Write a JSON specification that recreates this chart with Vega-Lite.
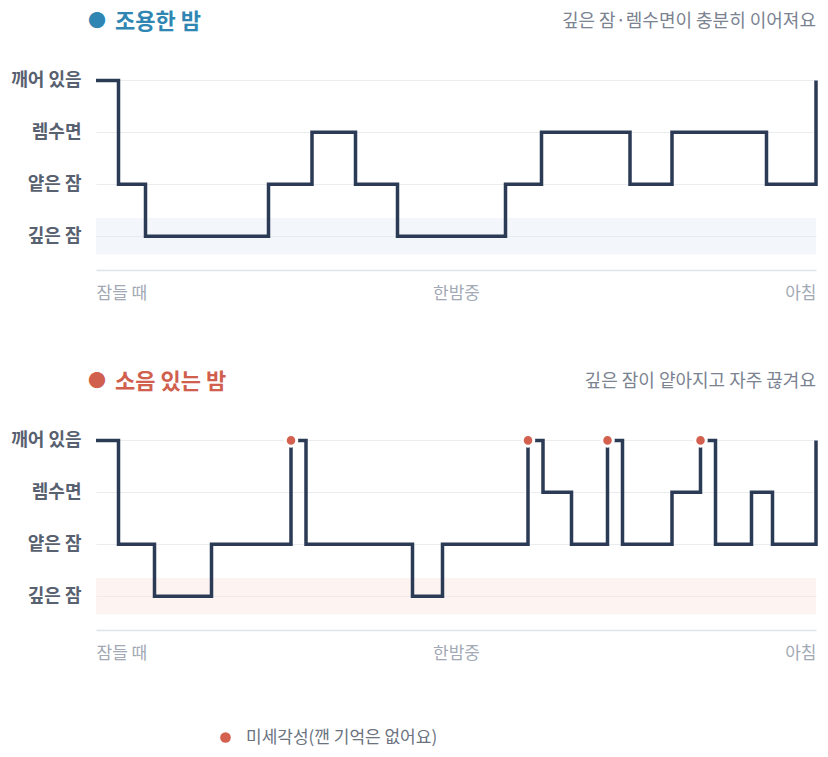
{
  "$schema": "https://vega.github.io/schema/vega-lite/v6.json",
  "background": "white",
  "padding": {"left": 10, "top": 10, "right": 5, "bottom": 5},
  "bounds": "flush",
  "spacing": 160,
  "datasets": {
    "quiet": [
      {"t": 0, "level": 3}, {"t": 15, "level": 1}, {"t": 33, "level": 0},
      {"t": 115, "level": 1}, {"t": 144, "level": 2}, {"t": 173, "level": 1},
      {"t": 201, "level": 0}, {"t": 273, "level": 1}, {"t": 297, "level": 2},
      {"t": 356, "level": 1}, {"t": 384, "level": 2}, {"t": 447, "level": 1},
      {"t": 480, "level": 3}
    ],
    "noisy": [
      {"t": 0, "level": 3}, {"t": 15, "level": 1}, {"t": 39, "level": 0},
      {"t": 77, "level": 1}, {"t": 130, "level": 3}, {"t": 140, "level": 1},
      {"t": 211, "level": 0}, {"t": 231, "level": 1}, {"t": 288, "level": 3},
      {"t": 298, "level": 2}, {"t": 317, "level": 1}, {"t": 341, "level": 3},
      {"t": 351, "level": 1}, {"t": 384, "level": 2}, {"t": 403, "level": 3},
      {"t": 413, "level": 1}, {"t": 437, "level": 2}, {"t": 451, "level": 1},
      {"t": 480, "level": 3}
    ],
    "arousals": [
      {"t": 130, "level": 3}, {"t": 288, "level": 3},
      {"t": 341, "level": 3}, {"t": 403, "level": 3}
    ],
    "quietText": [
      {"dot": "●", "title": "조용한 밤", "note": "깊은 잠·렘수면이 충분히 이어져요"}
    ],
    "noisyText": [
      {"dot": "●", "title": "소음 있는 밤", "note": "깊은 잠이 얕아지고 자주 끊겨요"}
    ]
  },
  "vconcat": [
    {
      "width": 720,
      "height": 200,
      "layer": [
        {
          "data": {"name": "quietText"},
          "mark": {"type": "rect", "color": "#e4edf6", "opacity": 0.45},
          "encoding": {
            "x": {"datum": 0, "type": "quantitative"},
            "x2": {"datum": 480},
            "y": {"datum": -0.35, "type": "quantitative"},
            "y2": {"datum": 0.35}
          }
        },
        {
          "data": {"name": "quiet"},
          "mark": {"type": "line", "interpolate": "step-after", "color": "#2b3a55", "strokeWidth": 3.5, "strokeJoin": "miter"},
          "encoding": {
            "x": {
              "field": "t", "type": "quantitative", "title": null,
              "scale": {"domain": [0, 480], "nice": false, "zero": false},
              "axis": {"values": [0, 240, 480], "labelExpr": "datum.value == 0 ? '잠들 때' : datum.value == 240 ? '한밤중' : '아침'"}
            },
            "y": {
              "field": "level", "type": "quantitative", "title": null,
              "scale": {"domain": [-0.65, 3.2], "nice": false, "zero": false},
              "axis": {"values": [0, 1, 2, 3], "labelExpr": "['깊은 잠', '얕은 잠', '렘수면', '깨어 있음'][datum.value]"}
            }
          }
        },
        {
          "data": {"name": "quietText"},
          "mark": {"type": "text", "align": "left", "baseline": "middle", "dx": -8, "fontSize": 18, "color": "#2f86b3"},
          "encoding": {
            "x": {"datum": 0, "type": "quantitative"},
            "y": {"datum": 4.13, "type": "quantitative"},
            "text": {"field": "dot"}
          }
        },
        {
          "data": {"name": "quietText"},
          "mark": {"type": "text", "align": "left", "baseline": "middle", "dx": 19, "fontSize": 22, "fontWeight": "bold", "color": "#2f86b3"},
          "encoding": {
            "x": {"datum": 0, "type": "quantitative"},
            "y": {"datum": 4.13, "type": "quantitative"},
            "text": {"field": "title"}
          }
        },
        {
          "data": {"name": "quietText"},
          "mark": {"type": "text", "align": "right", "baseline": "middle", "fontSize": 18, "color": "#7b8391"},
          "encoding": {
            "x": {"datum": 480, "type": "quantitative"},
            "y": {"datum": 4.13, "type": "quantitative"},
            "text": {"field": "note"}
          }
        }
      ]
    },
    {
      "width": 720,
      "height": 200,
      "layer": [
        {
          "data": {"name": "noisyText"},
          "mark": {"type": "rect", "color": "#fae6e2", "opacity": 0.45},
          "encoding": {
            "x": {"datum": 0, "type": "quantitative"},
            "x2": {"datum": 480},
            "y": {"datum": -0.35, "type": "quantitative"},
            "y2": {"datum": 0.35}
          }
        },
        {
          "data": {"name": "noisy"},
          "mark": {"type": "line", "interpolate": "step-after", "color": "#2b3a55", "strokeWidth": 3.5, "strokeJoin": "miter"},
          "encoding": {
            "x": {
              "field": "t", "type": "quantitative", "title": null,
              "scale": {"domain": [0, 480], "nice": false, "zero": false},
              "axis": {"values": [0, 240, 480], "labelExpr": "datum.value == 0 ? '잠들 때' : datum.value == 240 ? '한밤중' : '아침'"}
            },
            "y": {
              "field": "level", "type": "quantitative", "title": null,
              "scale": {"domain": [-0.65, 3.2], "nice": false, "zero": false},
              "axis": {"values": [0, 1, 2, 3], "labelExpr": "['깊은 잠', '얕은 잠', '렘수면', '깨어 있음'][datum.value]"}
            }
          }
        },
        {
          "data": {"name": "arousals"},
          "mark": {"type": "point", "filled": true, "size": 133, "stroke": "white", "strokeWidth": 3, "opacity": 1},
          "encoding": {
            "x": {"field": "t", "type": "quantitative"},
            "y": {"field": "level", "type": "quantitative"},
            "color": {
              "datum": "미세각성(깬 기억은 없어요)", "type": "nominal",
              "scale": {"range": ["#d4604f"]},
              "legend": {
                "title": null, "orient": "none", "legendX": 121, "legendY": 659,
                "padding": 0, "symbolType": "circle", "symbolSize": 113,
                "symbolStrokeWidth": 0, "symbolOpacity": 1, "labelFontSize": 17,
                "labelColor": "#6b7380", "labelOffset": 12, "labelLimit": 0
              }
            }
          }
        },
        {
          "data": {"name": "noisyText"},
          "mark": {"type": "text", "align": "left", "baseline": "middle", "dx": -8, "fontSize": 18, "color": "#d0604d"},
          "encoding": {
            "x": {"datum": 0, "type": "quantitative"},
            "y": {"datum": 4.13, "type": "quantitative"},
            "text": {"field": "dot"}
          }
        },
        {
          "data": {"name": "noisyText"},
          "mark": {"type": "text", "align": "left", "baseline": "middle", "dx": 19, "fontSize": 22, "fontWeight": "bold", "color": "#d0604d"},
          "encoding": {
            "x": {"datum": 0, "type": "quantitative"},
            "y": {"datum": 4.13, "type": "quantitative"},
            "text": {"field": "title"}
          }
        },
        {
          "data": {"name": "noisyText"},
          "mark": {"type": "text", "align": "right", "baseline": "middle", "fontSize": 18, "color": "#7b8391"},
          "encoding": {
            "x": {"datum": 480, "type": "quantitative"},
            "y": {"datum": 4.13, "type": "quantitative"},
            "text": {"field": "note"}
          }
        }
      ]
    }
  ],
  "config": {
    "font": "Noto Sans CJK KR",
    "view": {"stroke": null},
    "axisX": {
      "grid": false, "ticks": false, "domain": true, "domainColor": "#dfe3e8",
      "domainWidth": 1.5, "labelColor": "#a2a9b4", "labelFontSize": 17,
      "labelPadding": 15, "labelFlush": true
    },
    "axisY": {
      "grid": true, "gridColor": "#eaecf0", "gridWidth": 1, "ticks": false,
      "domain": false, "labelColor": "#58616f", "labelFontSize": 18,
      "labelFontWeight": "bold", "labelPadding": 15
    }
  }
}
